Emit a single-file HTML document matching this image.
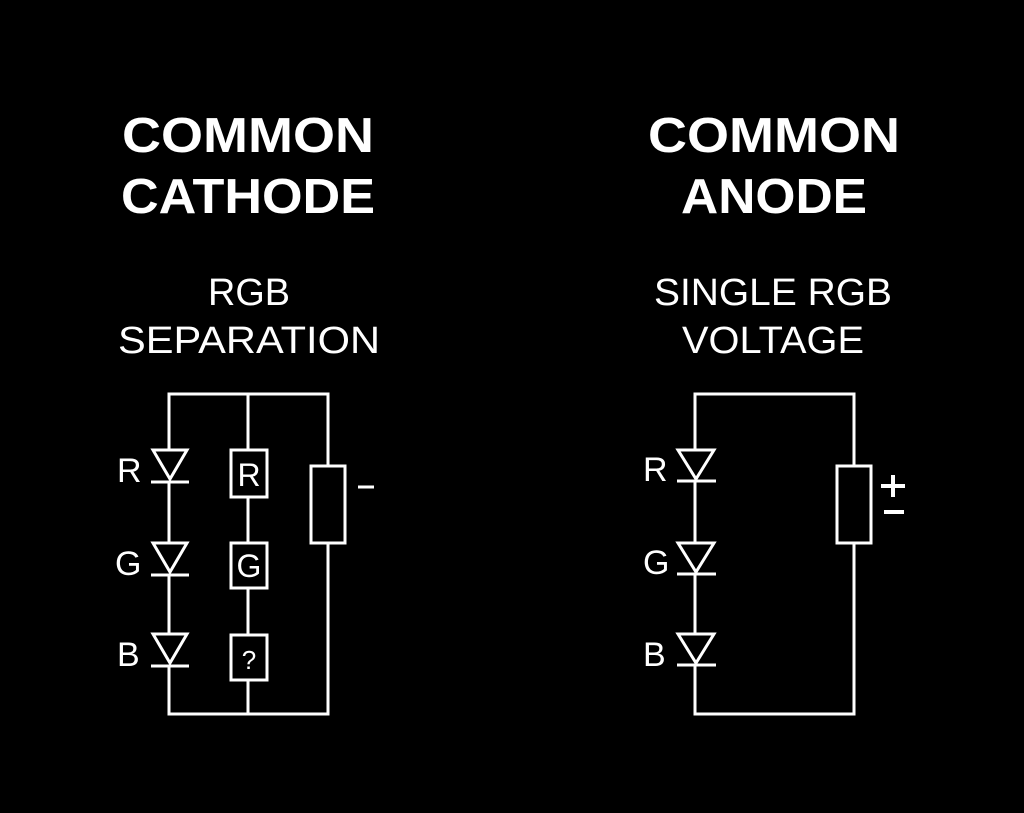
<!DOCTYPE html>
<html><head><style>
html,body{margin:0;padding:0;background:#000;}
svg{display:block}
text{font-family:"Liberation Sans","DejaVu Sans",sans-serif;fill:#fff}
</style></head><body>
<svg width="1024" height="813" viewBox="0 0 1024 813" xmlns="http://www.w3.org/2000/svg">
<rect width="1024" height="813" fill="#000"/>
<g text-anchor="middle">
<text x="248" y="152" font-size="49" font-weight="bold" textLength="252" lengthAdjust="spacingAndGlyphs">COMMON</text>
<text x="248" y="213" font-size="49" font-weight="bold" textLength="254" lengthAdjust="spacingAndGlyphs">CATHODE</text>
<text x="774" y="152" font-size="49" font-weight="bold" textLength="252" lengthAdjust="spacingAndGlyphs">COMMON</text>
<text x="774" y="213" font-size="49" font-weight="bold" textLength="186" lengthAdjust="spacingAndGlyphs">ANODE</text>
<text x="249" y="305" font-size="38" textLength="82" lengthAdjust="spacingAndGlyphs">RGB</text>
<text x="249" y="353" font-size="38" textLength="262" lengthAdjust="spacingAndGlyphs">SEPARATION</text>
<text x="773" y="305" font-size="38" textLength="238" lengthAdjust="spacingAndGlyphs">SINGLE RGB</text>
<text x="773" y="353" font-size="38" textLength="182" lengthAdjust="spacingAndGlyphs">VOLTAGE</text>
</g>
<g stroke="#fff" stroke-width="3" fill="none">
<polyline points="169,450 169,394 328,394 328,466"/>
<line x1="169" y1="482" x2="169" y2="543"/>
<line x1="169" y1="574" x2="169" y2="633"/>
<polyline points="169,665 169,714 328,714 328,543"/>
<line x1="248" y1="394" x2="248" y2="450"/>
<line x1="248" y1="497" x2="248" y2="543"/>
<line x1="248" y1="588" x2="248" y2="635"/>
<line x1="248" y1="680" x2="248" y2="714"/>
<polygon points="153,450 187,450 170,479"/>
<line x1="151" y1="482" x2="189" y2="482"/>
<polygon points="153,543 187,543 170,572"/>
<line x1="151" y1="575" x2="189" y2="575"/>
<polygon points="153,634 187,634 170,663"/>
<line x1="151" y1="666" x2="189" y2="666"/>
<rect x="231" y="450" width="36" height="47"/>
<rect x="231" y="543" width="36" height="45"/>
<rect x="231" y="635" width="36" height="45"/>
<rect x="311" y="466" width="34" height="77"/>
<line x1="358" y1="487" x2="374" y2="487"/>
<polyline points="695,450 695,394 854,394 854,466"/>
<line x1="695" y1="482" x2="695" y2="543"/>
<line x1="695" y1="574" x2="695" y2="633"/>
<polyline points="695,665 695,714 854,714 854,543"/>
<polygon points="678,450 714,450 696,479"/>
<line x1="677" y1="481" x2="716" y2="481"/>
<polygon points="678,543 714,543 696,572"/>
<line x1="677" y1="574" x2="716" y2="574"/>
<polygon points="678,634 714,634 696,663"/>
<line x1="677" y1="665" x2="716" y2="665"/>
<rect x="837" y="466" width="34" height="77"/>
<line x1="881" y1="486" x2="905" y2="486" stroke-width="4"/>
<line x1="893" y1="475" x2="893" y2="497" stroke-width="4"/>
<line x1="884" y1="512" x2="904" y2="512" stroke-width="4"/>
</g>
<g font-size="34">
<text x="117" y="482">R</text>
<text x="115" y="575">G</text>
<text x="117" y="666">B</text>
<text x="643" y="481">R</text>
<text x="643" y="574">G</text>
<text x="643" y="666">B</text>
</g>
<g font-size="32" text-anchor="middle">
<text x="249" y="486">R</text>
<text x="249" y="577">G</text>
<text x="249" y="669" font-size="26">?</text>
</g>
</svg>
</body></html>
